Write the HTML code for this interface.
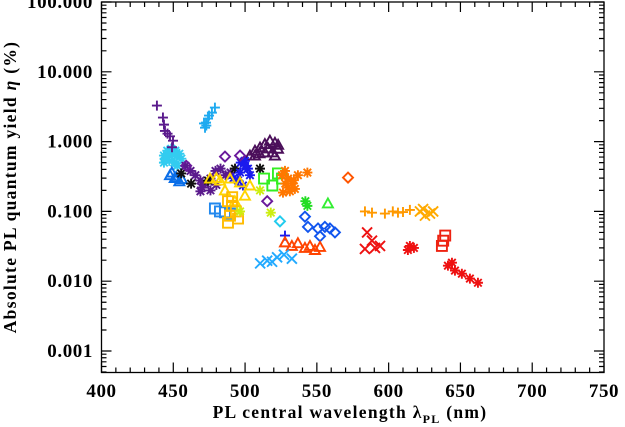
<!DOCTYPE html>
<html><head><meta charset="utf-8">
<style>
html,body{margin:0;padding:0;background:#fff;}
svg{display:block;font-family:"Liberation Serif",serif;font-weight:bold;}
</style></head>
<body>
<svg id="chart" width="625" height="427" viewBox="0 0 625 427" xmlns="http://www.w3.org/2000/svg">
<g id="axes"></g>
<g id="marks"></g>
<text x="350" y="418" font-size="17.5" letter-spacing="1.3" text-anchor="middle">PL central wavelength λ<tspan font-size="12" dy="5">PL</tspan><tspan dy="-5"> (nm)</tspan></text>
<text transform="translate(16,187) rotate(-90)" font-size="17.5" letter-spacing="1.3" text-anchor="middle">Absolute PL quantum yield <tspan font-style="italic">η</tspan> (%)</text>
</svg>
<script>
const xTicks=[400,450,500,550,600,650,700,750];
const yTicks=[0.001,0.01,0.1,1,10,100];
const yTickLabels=["0.001","0.010","0.100","1.000","10.000","100.000"];

const sA_x=[438.6,442.8,443.5,444.2,447.7,449.8,449.1,446];
const sA_y=[3.28,2.21,1.75,1.42,1.19,1.03,0.83,1.3];
const sB_x=[479,476.9,474.2,472.8,472.1,471.4,474.9,473];
const sB_y=[3.07,2.6,2.14,1.87,1.58,1.82,2.36,1.7];
const sC_x=[443.5,445.8,448.6,451.4,454.2,447.2,450.7,443.5,455.6,452.8,446,449,444,452,448];
const sC_y=[0.63,0.74,0.79,0.74,0.67,0.53,0.5,0.5,0.57,0.45,0.6,0.66,0.57,0.62,0.7];
const sD_x=[447.7,451,454.2,449,452,456];
const sD_y=[0.33,0.30,0.27,0.36,0.31,0.29];
const sE_x=[465.4,468.9,472.4,475.9,479.4,482.9,486.4,489.9,468.9,475.9,458.5,462,470,480];
const sE_y=[0.33,0.277,0.25,0.295,0.38,0.41,0.33,0.36,0.194,0.2,0.45,0.38,0.22,0.24];
const sF_x=[455.5,462.4,474.2,510.4,493];
const sF_y=[0.35,0.25,0.277,0.41,0.41];
const sG_x=[503.4,506.9,510.4,513.8,517.3,520.8,522.9,520.8,513.8,506.9,516,519,510,523];
const sG_y=[0.63,0.74,0.82,0.92,1.03,0.96,0.79,0.63,0.70,0.63,0.8,0.7,0.68,0.9];
const sH_x=[499.9,502,496.5,503.4,498.5,495.1,492,500,497];
const sH_y=[0.53,0.41,0.36,0.33,0.235,0.277,0.3,0.45,0.5];
const sI_x=[475.6,482.5,489.5,496.5,503.4,499.9,492.9,486,480];
const sI_y=[0.295,0.277,0.295,0.26,0.235,0.168,0.14,0.2,0.3];
const sJ_x=[488.1,490.9,493.6,489.5,495.1,488.1,491];
const sJ_y=[0.14,0.12,0.10,0.087,0.079,0.069,0.16];
const sK_x=[479,482.5,486,489.5];
const sK_y=[0.11,0.10,0.097,0.093];
const sL_x=[496.5,517.9,510.4];
const sL_y=[0.10,0.096,0.2];
const sM_x=[513.2,519,522.9,525.7];
const sM_y=[0.295,0.235,0.35,0.295];
const sN_x=[525.7,529.9,532.6,534.7,531.2,526.4,536.8,527.8,530,534,528];
const sN_y=[0.33,0.295,0.25,0.21,0.194,0.186,0.33,0.38,0.22,0.28,0.25];
const sO_x=[543.4];
const sO_y=[0.36];
const sOd_x=[571.7];
const sOd_y=[0.305];
const sP_x=[542,543.4];
const sP_y=[0.14,0.12];
const sPt_x=[557.7];
const sPt_y=[0.13];
const sQ_x=[541.7,543.8,550.8,555.6,559.1,562.6,552.2];
const sQ_y=[0.084,0.06,0.057,0.06,0.057,0.05,0.044];
const sR_x=[524.3];
const sR_y=[0.072];
const sS_x=[527.8];
const sS_y=[0.045];
const sT_x=[527.8,532.6,536.8,541.7,545.2,548.7,552.2];
const sT_y=[0.036,0.032,0.035,0.03,0.032,0.028,0.031];
const sU_x=[510.5,518.8,522.3,527.1,532.6,515.4];
const sU_y=[0.018,0.019,0.022,0.024,0.021,0.0197];
const sV_x=[583.5,588.4,597.4,602.9,606.5,610,614.8];
const sV_y=[0.10,0.096,0.093,0.10,0.096,0.098,0.105];
const sW_x=[621.8,625.3,628.8,624,631];
const sW_y=[0.10,0.087,0.093,0.108,0.10];
const sX_x=[585,588.4,583.5,590.5,594];
const sX_y=[0.05,0.038,0.029,0.030,0.032];
const sY_x=[614.8,613.4,617.6];
const sY_y=[0.032,0.028,0.030];
const sZ_x=[638,639.4,637.1];
const sZ_y=[0.038,0.045,0.032];
const sAA_x=[641.3,646.2,651,656.6,662.2,644.1];
const sAA_y=[0.0167,0.0142,0.0128,0.0109,0.0095,0.0184];
const sDi_x=[459,486,496.5,515.4];
const sDi_y=[0.45,0.61,0.63,0.14];

const series=[
 ["series-cyan-asterisk",sC_x,sC_y,"#33ccf0","ast"],
 ["series-purple-plus",sA_x,sA_y,"#5a1a8c","plus"],
 ["series-lightblue-plus",sB_x,sB_y,"#1eaaf0","plus"],
 ["series-blue-triangle",sD_x,sD_y,"#0a6ee8","tri"],
 ["series-purple-x",sE_x,sE_y,"#5a1a8c","ast"],
 ["series-black-asterisk",sF_x,sF_y,"#111111","ast"],
 ["series-darkpurple-triangle",sG_x,sG_y,"#4b0f5a","tri"],
 ["series-blue-asterisk",sH_x,sH_y,"#1a1aee","ast"],
 ["series-yellow-triangle",sI_x,sI_y,"#ffd400","tri"],
 ["series-blue-square",sK_x,sK_y,"#2288ee","sq"],
 ["series-amber-square",sJ_x,sJ_y,"#ffbb00","sq"],
 ["series-lime-asterisk",sL_x,sL_y,"#ccee11","ast"],
 ["series-green-square",sM_x,sM_y,"#33ee22","sq"],
 ["series-orange-asterisk",sN_x,sN_y,"#ff7700","ast"],
 ["series-orange-asterisk-2",sO_x,sO_y,"#ff7700","ast"],
 ["series-orange-diamond",sOd_x,sOd_y,"#ff5500","dia"],
 ["series-green-asterisk",sP_x,sP_y,"#22dd22","ast"],
 ["series-green-triangle",sPt_x,sPt_y,"#33ee33","tri"],
 ["series-blue-diamond",sQ_x,sQ_y,"#1155ee","dia"],
 ["series-cyan-diamond",sR_x,sR_y,"#22ccee","dia"],
 ["series-blue-plus",sS_x,sS_y,"#1a1aee","plus"],
 ["series-redorange-triangle",sT_x,sT_y,"#ff4400","tri"],
 ["series-lightblue-x",sU_x,sU_y,"#22aaff","x"],
 ["series-orange-plus",sV_x,sV_y,"#ff9900","plus"],
 ["series-orange-x",sW_x,sW_y,"#ffaa00","x"],
 ["series-red-x",sX_x,sX_y,"#ee1111","x"],
 ["series-red-asterisk",sY_x,sY_y,"#ee1111","ast"],
 ["series-red-square",sZ_x,sZ_y,"#ee2211","sq"],
 ["series-red-asterisk-trail",sAA_x,sAA_y,"#ee1111","ast"],
 ["series-mixed-diamond",sDi_x,sDi_y,"#6a1a9c","dia"]
];

const X0=101.5,X1=604,Y0=372.5,Y1=2;
const xMin=400,xMax=750,lyMin=-3.308,lyMax=2.0;
function sx(v){return X0+(v-xMin)/(xMax-xMin)*(X1-X0);}
function sy(v){return Y0-(Math.log10(v)-lyMin)/(lyMax-lyMin)*(Y0-Y1);}
const NS="http://www.w3.org/2000/svg";
function mk(t,a,p){const e=document.createElementNS(NS,t);for(const k in a)e.setAttribute(k,a[k]);p.appendChild(e);return e;}
const ax=document.getElementById('axes');
const frame=mk('rect',{x:X0,y:Y1,width:X1-X0,height:Y0-Y1,fill:'none',stroke:'#000','stroke-width':1.3},ax);


let d='';
for(let v=xMin;v<=xMax;v+=10){const x=sx(v);const L=(v%50===0)?10:5;d+=`M${x},${Y0}v${-L}M${x},${Y1}v${L}`;}
for(let e=-4;e<=2;e++){for(let m=1;m<10;m++){const v=m*Math.pow(10,e);const lv=Math.log10(v);if(lv<lyMin||lv>lyMax)continue;const y=sy(v);const L=m===1?10:5;d+=`M${X0},${y}h${L}M${X1},${y}h${-L}`;}}
const tk=mk('path',{d:d,stroke:'#000','stroke-width':1.2,fill:'none'},ax);


xTicks.forEach(v=>{const t=mk('text',{x:sx(v),y:397,'font-size':19,'letter-spacing':0.6,'text-anchor':'middle'},ax);t.textContent=String(v);

});
yTicks.forEach((v,i)=>{const t=mk('text',{x:93,y:sy(v)+6,'font-size':19,'letter-spacing':0.6,'text-anchor':'end'},ax);t.textContent=yTickLabels[i];

});
const mg=document.getElementById('marks');
const r=5;
function shape(type,x,y){
 switch(type){
  case 'plus':return `M${x-r},${y}h${2*r}M${x},${y-r}v${2*r}`;
  case 'x':return `M${x-r},${y-r}l${2*r},${2*r}M${x-r},${y+r}l${2*r},${-2*r}`;
  case 'ast':return `M${x-r},${y}h${2*r}M${x},${y-r}v${2*r}M${x-r*.75},${y-r*.75}l${1.5*r},${1.5*r}M${x-r*.75},${y+r*.75}l${1.5*r},${-1.5*r}`;
  case 'tri':return `M${x},${y-r}L${x+r},${y+r*.8}L${x-r},${y+r*.8}Z`;
  case 'sq':return `M${x-r},${y-r}h${2*r}v${2*r}h${-2*r}Z`;
  case 'dia':return `M${x},${y-r}L${x+r},${y}L${x},${y+r}L${x-r},${y}Z`;
 }
}
series.forEach(s=>{
 const g=mk('g',{},mg);
 
 
 s[1].forEach((v,i)=>{
  const p=mk('path',{d:shape(s[4],sx(v),sy(s[2][i])),stroke:s[3],'stroke-width':1.9,fill:'none'},g);
  
  
 });
});
</script>
</body></html>
